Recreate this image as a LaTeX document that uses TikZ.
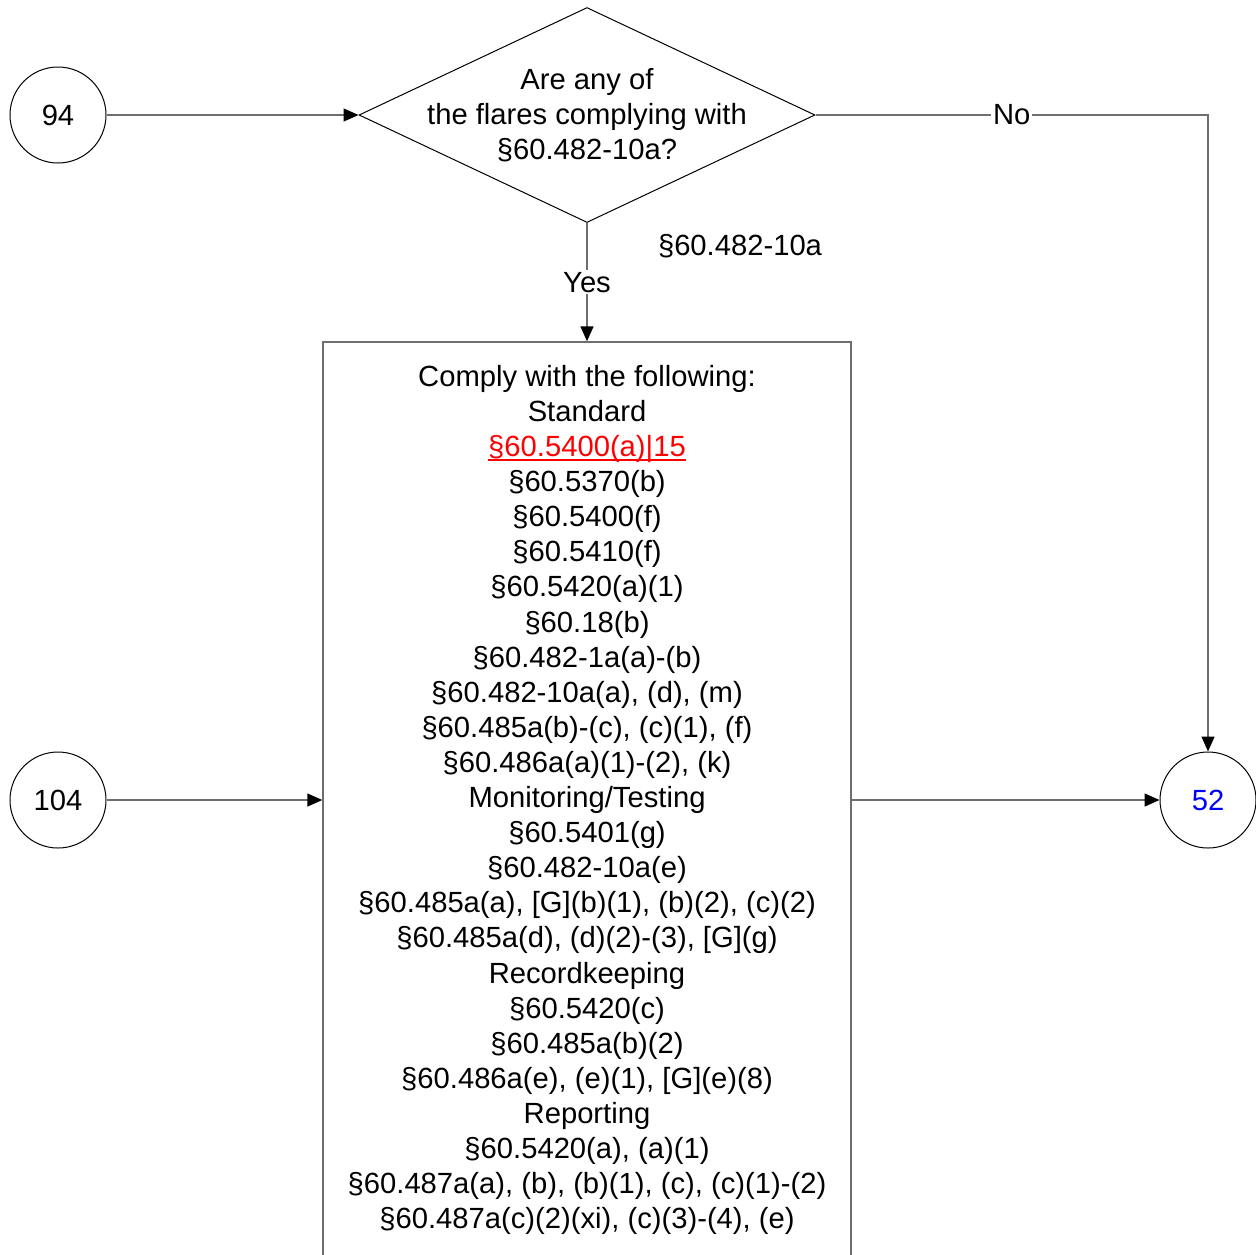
\documentclass[tikz,border=0pt]{standalone}
\usepackage{fontspec}
\setmainfont{Liberation Sans}
\usepackage{tikz}
\usetikzlibrary{arrows.meta,positioning,shapes.geometric}
\usepackage{xcolor}
\definecolor{linegray}{RGB}{110,110,110}
\definecolor{refred}{RGB}{255,0,0}
\definecolor{refblue}{RGB}{0,0,255}
\newcommand\redlink[1]{{\color{refred}\setbox0\hbox{#1}\rlap{\rule[-2.2pt]{\wd0}{0.8pt}}\box0}}

\begin{document}
\begin{tikzpicture}[x=0.5pt,y=-0.5pt,
    font=\fontsize{14.6pt}{17.55pt}\selectfont,
    conn/.style={draw=linegray,line width=0.7pt,-{Triangle[length=7.5pt,width=6.5pt,color=black]}},
    onpage/.style={circle,draw,line width=0.5pt,minimum size=48pt,inner sep=0pt},
    lbl/.style={fill=white,inner sep=1pt}]
    \useasboundingbox (0,0) rectangle (1256,1254);

    % Off-page connectors
    \node[onpage] (c94) at (58,115) {94};
    \node[onpage] (c104) at (58,800) {104};
    \node[onpage,text=refblue] (c52) at (1208,800) {52};

    % Decision
    \node[diamond,draw,line width=0.5pt,minimum width=228pt,minimum height=107.5pt,inner sep=0pt] (dec) at (587,115) {};
    \node[align=center] (dectext) at (dec.center) {Are any of\\the flares complying with\\§60.482-10a?};
    \node (cite) at (740,246) {§60.482-10a};

    % Requirements
    \node[draw=linegray,line width=0.7pt,minimum width=264pt,minimum height=458pt,inner sep=0pt,align=center] (reqs) at (587,800) {%
      Comply with the following:\\
      Standard\\
      \redlink{§60.5400(a)|15}\\
      §60.5370(b)\\
      §60.5400(f)\\
      §60.5410(f)\\
      §60.5420(a)(1)\\
      §60.18(b)\\
      §60.482-1a(a)-(b)\\
      §60.482-10a(a), (d), (m)\\
      §60.485a(b)-(c), (c)(1), (f)\\
      §60.486a(a)(1)-(2), (k)\\
      Monitoring/Testing\\
      §60.5401(g)\\
      §60.482-10a(e)\\
      §60.485a(a), [G](b)(1), (b)(2), (c)(2)\\
      §60.485a(d), (d)(2)-(3), [G](g)\\
      Recordkeeping\\
      §60.5420(c)\\
      §60.485a(b)(2)\\
      §60.486a(e), (e)(1), [G](e)(8)\\
      Reporting\\
      §60.5420(a), (a)(1)\\
      §60.487a(a), (b), (b)(1), (c), (c)(1)-(2)\\
      §60.487a(c)(2)(xi), (c)(3)-(4), (e)};

    % Arrows
    \draw[conn] (c94) -- (dec.west);
    \draw[conn] (dec.east) -| node[lbl,pos=0.25] {No} (c52.north);
    \draw[conn] (dec.south) -- node[lbl] {Yes} (reqs.north);
    \draw[conn] (c104) -- (reqs);
    \draw[conn] (reqs) -- (c52);
\end{tikzpicture}
\end{document}
